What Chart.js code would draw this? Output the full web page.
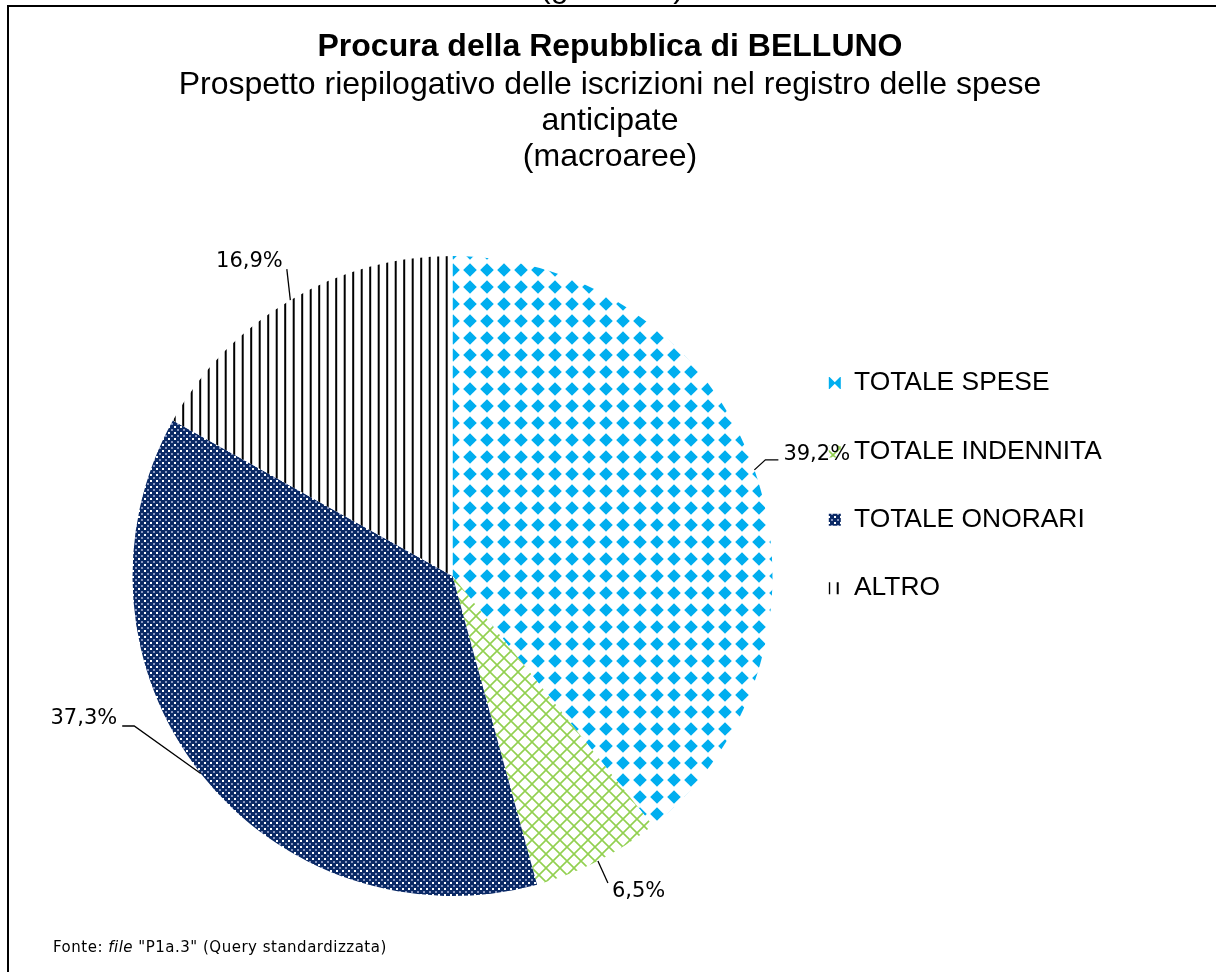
<!DOCTYPE html>
<html>
<head>
<meta charset="utf-8">
<script src="https://cdn.jsdelivr.net/npm/chart.js@4.4.1/dist/chart.umd.min.js"></script>
<style>
  html, body { margin: 0; padding: 0; background: #fff; width: 1216px; height: 972px; overflow: hidden; }
  #wrap { position: relative; width: 1216px; height: 972px; }
  #c { position: absolute; left: 0; top: 0; }
  #frame { position: absolute; left: 7px; top: 5px; width: 1400px; height: 1200px; border-left: 2px solid #000; border-top: 2px solid #000; pointer-events: none; }
  #above { position: absolute; left: 4px; top: -30px; width: 1216px; text-align: center; font: 32px/1 "Liberation Sans", Arial, sans-serif; color: #000; white-space: nowrap; }
  #fonte { position: absolute; left: 53px; top: 940px; font: 15px/1 "DejaVu Sans", Verdana, sans-serif; letter-spacing: 0.5px; color: #000; white-space: nowrap; }
</style>
</head>
<body>
<div id="wrap">
  <canvas id="c" width="1216" height="972"></canvas>
  <div id="above">(grafico 3)</div>
  <div id="frame"></div>
  <div id="fonte">Fonte: <i>file</i> "P1a.3" (Query standardizzata)</div>
</div>
<script>
// ---- data ----
const categories = ["TOTALE SPESE", "TOTALE INDENNITA'", "TOTALE ONORARI", "ALTRO"];
const shares = [39.2, 6.5, 37.3, 16.9];
const titleText = "Procura della Repubblica di BELLUNO";
const subtitleLines = ["Prospetto riepilogativo delle iscrizioni nel registro delle spese", "anticipate", "(macroaree)"];

// ---- fill patterns ----
function makePattern(w, h, draw) {
  const c = document.createElement('canvas');
  c.width = w; c.height = h;
  const g = c.getContext('2d');
  draw(g, w, h);
  return g.createPattern(c, 'repeat');
}
function diamond(g, cx, cy, r) {
  g.beginPath();
  g.moveTo(cx, cy - r); g.lineTo(cx + r, cy); g.lineTo(cx, cy + r); g.lineTo(cx - r, cy);
  g.closePath(); g.fill();
}
const BLUE = '#00AEEF', GREEN = '#92D050', NAVY = '#0B2A66';

function diamondTile(w, h, cx, cy) {
  return makePattern(w, h, (g) => {
    g.fillStyle = '#fff'; g.fillRect(0, 0, w, h);
    g.fillStyle = BLUE;
    for (const ox of [-w, 0, w]) for (const oy of [-h, 0, h]) diamond(g, cx + ox, cy + oy, 6.8);
  });
}
const patSpese = diamondTile(17, 17, 11, 15);
const patInd = makePattern(14, 14, (g) => {
  g.fillStyle = '#fff'; g.fillRect(0, 0, 14, 14);
  g.strokeStyle = GREEN; g.lineWidth = 1.6;
  g.beginPath();
  g.moveTo(-1, -1); g.lineTo(15, 15);
  g.moveTo(15, -1); g.lineTo(-1, 15);
  g.stroke();
});
const patOno = makePattern(6, 6, (g) => {
  g.fillStyle = NAVY; g.fillRect(0, 0, 6, 6);
  g.fillStyle = '#ffffff'; g.fillRect(0, 0, 2, 2);
  g.fillStyle = '#8795BF'; g.fillRect(3, 3, 2, 2);
});
const patAltro = makePattern(17, 17, (g) => {
  g.fillStyle = '#fff'; g.fillRect(0, 0, 17, 17);
  g.fillStyle = '#000';
  g.fillRect(3.7, 0, 2, 17);
  g.fillRect(12.2, 0, 2, 17);
});
const fills = [patSpese, patInd, patOno, patAltro];
// legend swatches: same fills, the blue one phased so the swatch shows the bow-tie crop
const swatches = [diamondTile(12, 17, 0.8, 9), patInd, patOno, patAltro];

// ---- slice label plugin (leader lines + percentage labels) ----
const sliceLabels = {
  id: 'sliceLabels',
  afterDatasetsDraw(chart, args, opts) {
    const ctx = chart.ctx;
    const meta = chart.getDatasetMeta(0);
    const vals = chart.data.datasets[0].data;
    ctx.save();
    ctx.font = opts.font;
    ctx.fillStyle = '#000';
    ctx.strokeStyle = '#000';
    ctx.lineWidth = 1.3;
    ctx.textBaseline = 'middle';
    meta.data.forEach((arc, i) => {
      const p = arc.getProps(['x', 'y', 'startAngle', 'endAngle', 'outerRadius'], true);
      const mid = (p.startAngle + p.endAngle) / 2;
      const ex = p.x + Math.cos(mid) * p.outerRadius;
      const ey = p.y + Math.sin(mid) * p.outerRadius;
      const L = opts.place[i];
      ctx.beginPath();
      L.line.forEach(([dx, dy], k) => {
        if (k === 0) ctx.moveTo(ex + dx, ey + dy); else ctx.lineTo(ex + dx, ey + dy);
      });
      ctx.stroke();
      const txt = vals[i].toFixed(1).replace('.', ',') + '%';
      ctx.textAlign = L.align;
      ctx.fillText(txt, ex + L.text[0], ey + L.text[1]);
    });
    ctx.restore();
  }
};

const FAM = '"Liberation Sans", Arial, sans-serif';

new Chart(document.getElementById('c'), {
  type: 'pie',
  data: {
    labels: categories,
    datasets: [{ data: shares, backgroundColor: fills, borderWidth: 0 }]
  },
  options: {
    responsive: false,
    animation: false,
    events: [],
    layout: { padding: { top: 29, left: 118.2, right: 114.2, bottom: 76 } },
    plugins: {
      title: {
        display: true, text: titleText, color: '#000',
        font: { family: FAM, size: 32, weight: 'bold', lineHeight: 1.125 },
        padding: { top: 0, bottom: 0 }
      },
      subtitle: {
        display: true, text: subtitleLines, color: '#000',
        font: { family: FAM, size: 32, weight: 'normal', lineHeight: 1.125 },
        padding: { top: 2, bottom: 81 }
      },
      legend: {
        position: 'right', fullSize: false, align: 'start', maxWidth: 315,
        title: { display: true, text: '', font: { size: 10, lineHeight: 1 }, padding: { top: 61.8, bottom: 0 } },
        labels: {
          color: '#000', font: { family: FAM, size: 26.4 }, boxWidth: 12, boxHeight: 12, padding: 42,
          generateLabels(chart) {
            const items = Chart.overrides.pie.plugins.legend.labels.generateLabels(chart);
            items.forEach((it, i) => { it.fillStyle = swatches[i]; it.lineWidth = 0; });
            return items;
          }
        }
      },
      tooltip: { enabled: false },
      sliceLabels: {
        font: '21px "DejaVu Sans", Verdana, sans-serif',
        place: [
          { line: [[0, 0], [11, -10], [24, -10]], text: [29, -15], align: 'left' },
          { line: [[0, 0], [10, 22]], text: [14, 30], align: 'left' },
          { line: [[0, 0], [-66.5, -47.5], [-78.5, -47.5]], text: [-83.5, -55], align: 'right' },
          { line: [[0, 0], [-3.5, -31]], text: [-7.5, -39], align: 'right' }
        ]
      }
    }
  },
  plugins: [sliceLabels]
});
</script>
</body>
</html>
